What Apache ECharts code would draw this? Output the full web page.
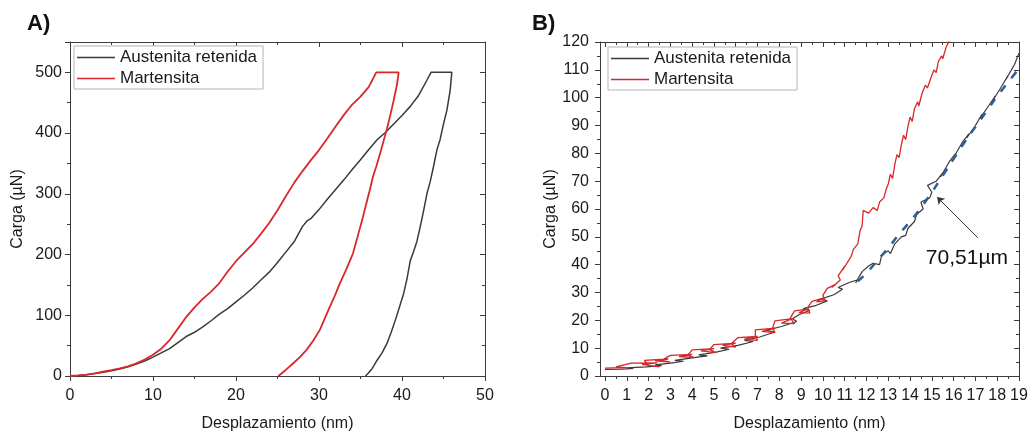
<!DOCTYPE html>
<html>
<head>
<meta charset="utf-8">
<script src="https://cdn.jsdelivr.net/npm/echarts@6/dist/echarts.min.js"></script>
<style>html,body{margin:0;padding:0;background:#fff}#c{width:1031px;height:435px}</style>
</head>
<body>
<div id="c"></div>
<script>
// ---------- Panel A data (displacement nm, load µN) ----------
const austA_load = [[0,0],[1,0.8],[2,2],[3,4],[4,6],[5,8.5],[6,11.5],[7,15],[8,19.5],[9,24.5],[10,31],[11,38],[12,45],[13,55],[14,65],[15,72],[16,81],[17,91],[18,102],[19,111],[20,122],[21,133],[22,145],[23,158],[24,171],[25,187],[26,204],[27,221],[28,246],[28.6,256],[29,259],[30,274],[31,291],[32,307],[33,323],[34,340],[35,356],[36,373],[37,389],[38,401],[39,415],[40,429],[41,444],[42,462],[43,487],[43.5,500],[46,500]];
const austA_unload = [[46,500],[45.8,470],[45.4,437],[45,415],[44.6,390],[44.2,372],[43.8,345],[43.4,320],[43,300],[42.6,272],[42.2,246],[41.8,222],[41.4,205],[41,190],[40.6,160],[40.2,136],[39.8,118],[39.2,92],[38.7,72],[38.2,54],[37.6,38],[37,26],[36.4,12],[35.9,4],[35.6,0]];
const martA_load = [[0,0],[1,1],[2,2.2],[3,4.5],[4,7],[5,9.5],[6,12.5],[7,16],[8,21],[9,27],[10,35],[11,45],[12,59],[13,78],[14,97],[15,113],[16,127],[17,139],[18,153],[19,172],[20,189],[21,203],[22,217],[23,234],[24,252],[25,273],[26,296],[27,318],[28,337],[29,355],[30,372],[31,391],[32,411],[33,430],[34,447],[35,460],[36,476],[36.9,500],[39.6,500]];
const martA_unload = [[39.6,500],[39.4,480],[39,454],[38.6,430],[38.2,408],[37.8,388],[37.4,368],[36.9,345],[36.5,328],[36.1,305],[35.7,284],[35.3,262],[34.7,232],[34.1,202],[33.3,176],[32.5,152],[31.9,132],[31.3,114],[30.7,95],[30.1,76],[29.3,58],[28.5,43],[27.7,31],[26.9,21],[26,10],[25.1,0]];

// ---------- Panel B data ----------
const austB = [[0,2.4],[0.8,2.5],[1.3,2.7],[1.0,2.9],[1.9,3.3],[2.6,3.7],[2.3,4.0],[3.0,4.6],[3.6,5.3],[3.2,5.6],[4.0,6.5],[4.7,7.2],[4.3,7.6],[5.1,8.6],[5.7,9.6],[5.3,10.0],[6.1,11.0],[6.8,12.4],[6.4,12.8],[7.1,14.0],[7.8,15.8],[7.4,16.4],[8.1,17.8],[8.8,19.6],[8.6,20.6],[8.9,22.0],[9.4,23.6],[9.1,24.2],[9.7,25.4],[10.2,27.0],[9.9,27.6],[10.5,29.2],[10.9,31.2],[10.7,31.8],[11.2,33.6],[11.6,34.6],[11.5,33.4],[11.8,37.5],[12.1,39.5],[12.3,40.5],[12.6,40],[12.7,43.5],[13,45],[13.1,44],[13.3,47.5],[13.6,50],[13.8,50.5],[13.9,53],[14.2,55.5],[14.3,58],[14.6,60],[14.5,62.5],[14.9,64],[15.0,66],[14.8,68.5],[15.2,70],[15.5,73],[15.4,71.5],[15.8,77],[16.1,80],[16,78.5],[16.4,84],[16.7,87],[16.6,85.5],[17,90],[17.3,94],[17.2,92.5],[17.6,97],[17.9,100.5],[17.8,99],[18.2,104],[18.5,108],[18.4,106.5],[18.8,112],[19,116]];
const martB = [[0,2.8],[0.8,3.0],[1.1,2.9],[0.5,3.3],[1.2,4.6],[2.4,4.7],[1.7,4.2],[2.5,3.3],[2.0,3.8],[1.8,5.6],[2.9,6.1],[2.3,5.4],[3.0,5.0],[2.6,5.6],[3.0,7.4],[4.0,7.8],[3.4,7.0],[4.1,6.6],[3.8,7.5],[4.0,9.4],[5.0,9.8],[4.4,9.0],[5.1,8.4],[4.8,9.5],[5.0,11.3],[6.0,11.8],[5.4,11.0],[6.0,10.4],[5.8,11.6],[6.1,13.8],[7.0,14.2],[6.4,13.2],[7.0,12.8],[6.9,14.2],[6.9,16.6],[7.8,17.2],[7.2,16.0],[7.8,15.6],[7.7,17.4],[7.8,19.8],[8.6,20.6],[8.1,19.0],[8.7,18.8],[8.5,20.8],[8.7,23.4],[9.3,24.0],[8.9,22.8],[9.4,22.6],[9.3,24.6],[9.5,26.8],[10.0,28.0],[9.7,26.6],[10.1,27.0],[10.0,29.0],[10.2,31.5],[10.6,33.0],[10.4,31.8],[10.8,34.5],[10.7,36.0],[11.0,39.5],[10.9,38],[11.3,43],[11.4,45.5],[11.6,47.5],[11.7,52],[11.8,54],[11.85,59.5],[12.1,58.5],[12.3,60.5],[12.5,59.5],[12.6,62.5],[12.8,64],[12.9,67],[13.0,69],[13.1,72.5],[13.2,71],[13.3,76],[13.4,79.5],[13.5,78.5],[13.6,83],[13.7,86.5],[13.8,85],[13.9,89.5],[14.0,93],[14.1,91.5],[14.2,96],[14.35,98.5],[14.4,97],[14.55,101.5],[14.7,104.5],[14.8,103.5],[14.95,107],[15.1,110],[15.2,109],[15.3,113],[15.45,115],[15.5,114],[15.65,118],[15.8,120.5]];
const fitB = [[11.6,34],[12,37],[12.5,41.5],[13,46],[13.5,51],[14,55.5],[14.5,60.5],[15,66],[15.5,72],[16,78],[16.5,84],[17,89.5],[17.5,95],[18,100.5],[18.5,105.5],[19,110.5]];

// annotation (data coordinates of panel B)
const arrowTail = [17.12, 49.6];
const arrowHead = [15.24, 64.3];
const noteAt = [16.61, 42.4];
const noteText = '70,51µm';

// tick values
const ticksBMajor = [0,1,2,3,4,5,6,7,8,9,10,11,12,13,14,15,16,17,18,19];
const ticksBMinor = [0.5,1.5,2.5,3.5,4.5,5.5,6.5,7.5,8.5,9.5,10.5,11.5,12.5,13.5,14.5,15.5,16.5,17.5,18.5];
const legendNames = ['Austenita retenida','Martensita'];

const FONT = '"Liberation Sans", Arial, sans-serif';
const AX = '#3c3c3c';
const BLACK = '#3a3a3a';
const RED = '#d8282c';

const chart = echarts.init(document.getElementById('c'), null, {renderer:'canvas'});

function baseAxis(extra){
  return Object.assign({
    type:'value',
    axisLine:{show:true, onZero:false, lineStyle:{color:AX, width:1}},
    axisTick:{show:true, inside:false, length:5, lineStyle:{color:AX}},
    minorTick:{show:true, splitNumber:2, length:3, lineStyle:{color:AX}},
    splitLine:{show:false}, minorSplitLine:{show:false},
    axisLabel:{color:'#1a1a1a', fontSize:16, fontFamily:FONT},
    nameTextStyle:{color:'#1a1a1a', fontSize:16, fontFamily:FONT}
  }, extra);
}
const noLine = {show:false, onZero:false};

const legendBase = {orient:'vertical', itemWidth:38, itemHeight:1.6, itemGap:4, icon:'rect',
  borderColor:'#b5b5b5', borderWidth:1, padding:[3,6,2,3], backgroundColor:'#fff',
  textStyle:{fontSize:17, color:'#1a1a1a', fontFamily:FONT}};

const option = {
  animation:false,
  backgroundColor:'#fff',
  title:[
    {text:'A)', left:22, top:8, textStyle:{fontSize:22, fontWeight:'bold', color:'#111', fontFamily:FONT}},
    {text:'B)', left:527, top:8, textStyle:{fontSize:22, fontWeight:'bold', color:'#111', fontFamily:FONT}}
  ],
  grid:[
    {left:70, top:42, width:415, height:334, outerBoundsMode:'none', containLabel:false},
    {left:600, top:42, width:419, height:334, outerBoundsMode:'none', containLabel:false}
  ],
  legend:[
    Object.assign({data:legendNames, left:74, top:46}, legendBase),
    Object.assign({data:legendNames, left:608, top:47}, legendBase)
  ],
  xAxis:[
    baseAxis({gridIndex:0, position:'bottom', min:0, max:50, interval:10,
      name:'Desplazamiento (nm)', nameLocation:'middle', nameGap:40,
      axisLabel:{color:'#1a1a1a', fontSize:16, fontFamily:FONT, margin:12}}),
    baseAxis({gridIndex:0, position:'top', min:0, max:50, interval:10,
      axisTick:{show:true, inside:true, length:5, lineStyle:{color:AX}},
      minorTick:{show:true, splitNumber:2, length:3, lineStyle:{color:AX}},
      axisLabel:{show:false}}),
    baseAxis({gridIndex:1, position:'bottom', min:-0.23, max:19,
      name:'Desplazamiento (nm)', nameLocation:'middle', nameGap:40,
      axisTick:{show:true, length:5, customValues:ticksBMajor, lineStyle:{color:AX}},
      minorTick:{show:false},
      axisLabel:{color:'#1a1a1a', fontSize:16, fontFamily:FONT, margin:12, customValues:ticksBMajor}}),
    baseAxis({gridIndex:1, position:'bottom', min:-0.23, max:19,
      axisLine:noLine,
      axisTick:{show:true, length:3, customValues:ticksBMinor, lineStyle:{color:AX}},
      minorTick:{show:false}, axisLabel:{show:false}}),
    baseAxis({gridIndex:1, position:'top', min:-0.23, max:19,
      axisTick:{show:true, inside:true, length:5, customValues:ticksBMajor, lineStyle:{color:AX}},
      minorTick:{show:false}, axisLabel:{show:false}}),
    baseAxis({gridIndex:1, position:'top', min:-0.23, max:19,
      axisLine:noLine,
      axisTick:{show:true, inside:true, length:3, customValues:ticksBMinor, lineStyle:{color:AX}},
      minorTick:{show:false}, axisLabel:{show:false}})
  ],
  yAxis:[
    baseAxis({gridIndex:0, position:'left', min:0, max:550, interval:100,
      name:'Carga (µN)', nameLocation:'middle', nameGap:44,
      axisLabel:{color:'#1a1a1a', fontSize:16, fontFamily:FONT, margin:8, showMaxLabel:false}}),
    baseAxis({gridIndex:0, position:'right', min:0, max:550, interval:100,
      axisTick:{show:true, inside:true, length:5, lineStyle:{color:AX}},
      minorTick:{show:true, splitNumber:2, length:3, lineStyle:{color:AX}},
      axisLabel:{show:false}}),
    baseAxis({gridIndex:1, position:'left', min:0, max:120, interval:10,
      name:'Carga (µN)', nameLocation:'middle', nameGap:40,
      axisLabel:{color:'#1a1a1a', fontSize:16, fontFamily:FONT, margin:11}}),
    baseAxis({gridIndex:1, position:'right', min:0, max:120, interval:10,
      axisTick:{show:true, inside:true, length:5, lineStyle:{color:AX}},
      minorTick:{show:true, splitNumber:2, length:3, lineStyle:{color:AX}},
      axisLabel:{show:false}})
  ],
  series:[
    {name:'Austenita retenida', type:'line', xAxisIndex:0, yAxisIndex:0, symbol:'none',
     lineStyle:{color:BLACK, width:1.5}, itemStyle:{color:BLACK},
     data: austA_load.concat(austA_unload)},
    {name:'Martensita', type:'line', xAxisIndex:0, yAxisIndex:0, symbol:'none',
     lineStyle:{color:RED, width:1.8}, itemStyle:{color:RED},
     data: martA_load.concat(martA_unload)},
    {name:'Austenita retenida', type:'line', xAxisIndex:2, yAxisIndex:2, symbol:'none',
     lineStyle:{color:BLACK, width:1.2}, itemStyle:{color:BLACK}, data: austB},
    {name:'Martensita', type:'line', xAxisIndex:2, yAxisIndex:2, symbol:'none',
     lineStyle:{color:RED, width:1.3}, itemStyle:{color:RED}, data: martB},
    {name:'fit', type:'line', xAxisIndex:2, yAxisIndex:2, symbol:'none', smooth:true, z:3,
     lineStyle:{color:'#2f5c9c', width:2.5, type:[8,9]}, itemStyle:{color:'#2f5c9c'}, data: fitB,
     markPoint:{silent:true, symbol:'circle', symbolSize:0,
       label:{show:true, position:'inside', formatter:noteText, fontSize:21, color:'#111', fontFamily:FONT},
       data:[{coord:noteAt}]}
    },
    {name:'arrow', type:'lines', coordinateSystem:'cartesian2d', xAxisIndex:2, yAxisIndex:2, z:10,
     symbol:['none','arrow'], symbolSize:7, silent:true,
     lineStyle:{color:'#333', width:1, opacity:1},
     data:[{coords:[arrowTail, arrowHead]}]}
  ]
};
chart.setOption(option);
</script>
</body>
</html>
